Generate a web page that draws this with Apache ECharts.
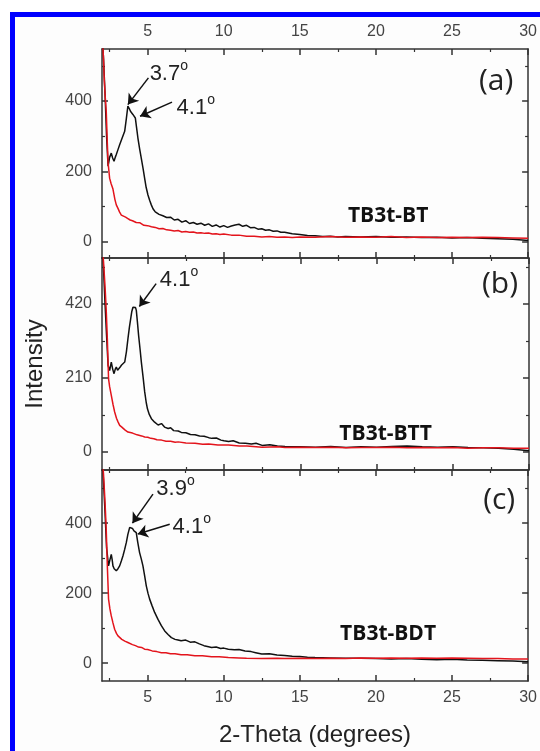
<!DOCTYPE html>
<html><head><meta charset="utf-8">
<script src="https://cdn.jsdelivr.net/npm/echarts@6/dist/echarts.min.js"></script>
<style>
html,body{margin:0;padding:0;background:#fff;}
#frame{position:absolute;left:10px;top:12px;width:540px;height:751px;border-left:5px solid #0000ff;border-top:5px solid #0000ff;background:#fdfdfd;}
#chart{position:absolute;left:0;top:0;width:540px;height:751px;}
</style></head><body><div id="frame"></div><div id="chart"></div>
<script>
// ---- tick labels ----
const xTickLabels = [5, 10, 15, 20, 25, 30];
const xMinorTicks = [2.5, 7.5, 12.5, 17.5, 22.5, 27.5];
const yLabelsA = [0, 200, 400];
const yMinorA = [100, 300, 500];
const yLabelsB = [0, 210, 420];
const yMinorB = [105, 315, 525];
const yLabelsC = [0, 200, 400];
const yMinorC = [100, 300, 500];
const sampleNames = ['TB3t-BT', 'TB3t-BTT', 'TB3t-BDT'];
const panelTags = ['(a)', '(b)', '(c)'];

// ---- panel (a) ----
const blackA_x = [2.0,2.1,2.2,2.3,2.4,2.5,2.61,2.7,2.79,2.87,2.94,3.05,3.16,3.3,3.49,3.6,3.7,3.8,3.87,3.95,4.03,4.1,4.19,4.27,4.36,4.47,4.58,4.7,4.8,4.9,5.02,5.13,5.24,5.35,5.5,5.75,6.0,6.25,6.5,6.75,7.0,7.25,7.5,7.75,8.0,8.25,8.5,8.75,9.0,9.25,9.5,9.75,10.0,10.25,10.5,10.75,11.0,11.25,11.5,11.75,12.0,12.25,12.5,12.75,13.0,13.25,13.5,13.75,14.0,14.5,15.0,15.5,16.0,16.5,17.0,17.5,18.0,19.0,20.0,21.0,22.0,23.0,24.0,25.0,26.0,27.0,28.0,29.0,30.0];
const blackA_y = [600,520,420,300,215,240,252,238,229,240,248,262,276,292,314,350,386,378,371,366,362,358,352,325,295,265,238,208,181,155,133,118,105,94,85,78,74,69,70,62,64,56,60,52,55,50,53,47,51,44,48,42,46,41,45,48,50,44,47,40,41,36,37,33,34,30,31,27,27,23,21,18,17,15,16,14,15,14,15,13,14,12,13,11,12,10,9,7,4];
const redA_x = [2.0,2.05,2.1,2.15,2.2,2.28,2.35,2.4,2.5,2.6,2.72,2.85,2.94,3.05,3.15,3.27,3.4,3.55,3.7,3.85,4.0,4.25,4.5,4.75,5.0,5.25,5.5,5.75,6.0,6.25,6.5,6.75,7.0,7.25,7.5,7.75,8.0,8.25,8.5,8.75,9.0,9.25,9.5,9.75,10.0,10.5,11.0,11.5,12.0,12.5,13.0,13.5,14.0,14.5,15.0,16.0,17.0,18.0,19.0,20.0,21.0,22.0,23.0,24.0,25.0,26.0,27.0,28.0,29.0,30.0];
const redA_y = [600,560,520,460,420,370,280,225,181,165,150,120,105,95,85,76,74,70,66,62,60,55,54,47,46,43,41,37,38,34,33,31,32,28,29,27,28,25,26,24,25,22,23,21,22,19,19,16,16,14,15,13,14,12,14,13,15,13,14,13,15,12,14,12,13,12,13,12,11,10];

// ---- panel (b) ----
const blackB_x = [2.0,2.1,2.2,2.3,2.4,2.5,2.61,2.7,2.79,2.87,2.94,3.02,3.1,3.18,3.27,3.38,3.49,3.6,3.7,3.8,3.88,3.95,4.03,4.1,4.14,4.2,4.25,4.32,4.4,4.5,4.58,4.7,4.8,4.9,4.98,5.1,5.24,5.45,5.68,5.9,6.1,6.34,6.5,6.7,7.0,7.2,7.5,7.8,8.1,8.4,8.7,9.0,9.2,9.5,9.8,10.0,10.3,10.6,11.0,11.4,11.8,12.1,12.5,13.0,13.5,14.0,15.0,16.0,17.0,18.0,19.0,20.0,21.0,22.0,23.0,24.0,25.0,26.0,27.0,28.0,29.0,30.0];
const blackB_y = [600,520,420,330,245,231,255,235,222,235,241,232,227,240,246,250,255,284,321,355,378,398,411,416,416,410,402,370,331,290,255,210,170,140,122,106,94,84,76,80,70,66,68,60,59,55,54,49,48,45,44,40,38,39,33,31,29,31,25,24,22,24,18,20,16,15,14,13,15,12,14,13,15,16,14,13,14,12,11,10,7,3];
const redB_x = [2.0,2.1,2.2,2.28,2.35,2.43,2.5,2.61,2.72,2.83,2.95,3.05,3.16,3.3,3.5,3.7,4.0,4.3,4.6,4.8,5.0,5.2,5.4,5.6,5.9,6.2,6.5,6.8,7.0,7.5,8.1,8.6,9.0,9.6,10.3,11.0,11.5,12.5,13.5,14.0,15.0,16.0,17.0,18.0,19.0,20.0,21.0,22.0,23.0,24.0,25.0,26.0,27.0,28.0,29.0,30.0];
const redB_y = [600,540,470,400,321,207,185,160,135,113,95,85,75,70,62,56,53,48,45,42,41,38,37,34,33,30,30,27,28,25,24,21,22,19,19,16,16,13,14,12,13,12,13,11,12,12,13,11,12,11,12,10,11,11,10,10];

// ---- panel (c) ----
const blackC_x = [2.0,2.1,2.2,2.3,2.43,2.52,2.61,2.67,2.72,2.8,2.87,2.94,3.05,3.16,3.27,3.38,3.49,3.6,3.7,3.82,3.93,4.0,4.1,4.18,4.25,4.35,4.47,4.58,4.69,4.8,4.91,5.02,5.13,5.3,5.46,5.68,5.9,6.12,6.34,6.56,6.8,7.0,7.2,7.5,7.8,8.1,8.4,8.7,9.0,9.2,9.5,9.8,10.0,10.3,10.7,11.0,11.4,11.8,12.1,12.5,13.0,13.5,14.0,14.5,15.0,15.5,16.0,17.0,18.0,19.0,20.0,21.0,22.0,23.0,24.0,25.0,26.0,27.0,28.0,29.0,30.0];
const blackC_y = [600,520,430,330,278,295,311,295,278,270,265,264,270,278,292,307,325,345,368,388,392,385,378,376,373,345,316,298,278,250,221,200,183,163,145,125,107,92,82,73,68,66,64,66,60,61,55,50,47,45,46,42,43,40,38,39,35,33,30,26,27,23,22,20,19,17,16,15,14,14,13,12,13,11,10,11,9,8,7,6,4];
const redC_x = [2.0,2.1,2.2,2.28,2.35,2.43,2.52,2.61,2.72,2.83,2.95,3.05,3.16,3.3,3.5,3.7,4.0,4.2,4.4,4.6,4.8,5.0,5.3,5.6,5.9,6.2,6.5,6.8,7.2,7.6,8.1,8.6,9.2,9.7,10.3,11.0,11.5,12.5,13.5,14.0,15.0,16.0,17.0,18.0,19.0,20.0,21.0,22.0,23.0,24.0,25.0,26.0,27.0,28.0,29.0,30.0];
const redC_y = [600,540,460,380,278,183,155,135,115,97,85,78,73,68,63,59,53,50,46,45,40,39,35,33,30,30,27,27,24,24,21,21,18,18,16,15,14,13,14,13,14,13,14,13,15,14,15,14,15,14,15,14,13,13,12,12];

// ---- layout (positions, not data) ----
const FONT = '"Liberation Sans", Arial, sans-serif';
const layout = [
  { grid: {left: 102, top: 49, width: 427, height: 209}, yMin: -46, yMax: 548,
    tagAt: [27.9, 455], nameAt: [20.8, 73],
    notes: [ {text: '3.7', at: [5.13, 476], from: [5.05, 466], to: [3.7, 390]},
             {text: '4.1', at: [6.9, 380], from: [6.6, 397], to: [4.5, 357]} ] },
  { grid: {left: 102, top: 258, width: 427, height: 212}, yMin: -52, yMax: 551,
    tagAt: [28.1, 477], nameAt: [20.6, 50],
    notes: [ {text: '4.1', at: [5.79, 488], from: [5.55, 478], to: [4.45, 413]} ] },
  { grid: {left: 102, top: 470, width: 427, height: 211}, yMin: -51, yMax: 552,
    tagAt: [28.1, 464], nameAt: [20.8, 84],
    notes: [ {text: '3.9', at: [5.57, 498], from: [5.35, 483], to: [4.0, 400]},
             {text: '4.1', at: [6.64, 389], from: [6.45, 397], to: [4.35, 369]} ] }
];
const panelData = [
  {bx: blackA_x, by: blackA_y, rx: redA_x, ry: redA_y, yl: yLabelsA, ym: yMinorA},
  {bx: blackB_x, by: blackB_y, rx: redB_x, ry: redB_y, yl: yLabelsB, ym: yMinorB},
  {bx: blackC_x, by: blackC_y, rx: redC_x, ry: redC_y, yl: yLabelsC, ym: yMinorC}
];

const AX = '#333';
const grids = [], xAxes = [], yAxes = [], series = [];
const pairs = (xs, ys) => xs.map((x, i) => [x, ys[i]]);

layout.forEach((L, gi) => {
  const D = panelData[gi];
  grids.push(L.grid);
  const xBase = {type: 'value', gridIndex: gi, min: 2, max: 30, splitLine: {show: false}};
  const labelStyle = {fontSize: 16, color: '#444', fontFamily: FONT, margin: 9, customValues: xTickLabels};
  ['bottom', 'top'].forEach(pos => {
    const showLab = (pos === 'top' && gi === 0) || (pos === 'bottom' && gi === 2);
    const ax = Object.assign({}, xBase, {
      position: pos,
      axisLine: {show: true, onZero: false, lineStyle: {color: AX, width: 1.5}},
      axisTick: {show: true, inside: true, length: 6, customValues: xTickLabels, lineStyle: {color: AX, width: 1.5}},
      axisLabel: Object.assign({show: showLab}, labelStyle)
    });
    if (pos === 'bottom' && gi === 2) {
      ax.name = '2-Theta (degrees)';
      ax.nameLocation = 'middle';
      ax.nameGap = 42;
      ax.nameTextStyle = {fontSize: 24, color: '#222', fontFamily: FONT};
    }
    xAxes.push(ax);
  });
  ['bottom', 'top'].forEach(pos => {
    xAxes.push(Object.assign({}, xBase, {
      position: pos,
      axisLine: {show: false, onZero: false},
      axisTick: {show: true, inside: true, length: 3, customValues: xMinorTicks, lineStyle: {color: AX, width: 1.2}},
      axisLabel: {show: false}
    }));
  });
  const yBase = {type: 'value', gridIndex: gi, min: L.yMin, max: L.yMax, splitLine: {show: false}};
  ['left', 'right'].forEach(pos => {
    const ay = Object.assign({}, yBase, {
      position: pos,
      axisLine: {show: true, onZero: false, lineStyle: {color: AX, width: 1.5}},
      axisTick: {show: true, inside: true, length: 6, customValues: D.yl, lineStyle: {color: AX, width: 1.5}},
      axisLabel: {show: pos === 'left', customValues: D.yl, fontSize: 16, color: '#444', fontFamily: FONT, margin: 10}
    });
    if (pos === 'left' && gi === 1) {
      ay.name = 'Intensity';
      ay.nameLocation = 'middle';
      ay.nameGap = 55;
      ay.nameRotate = 90;
      ay.nameTextStyle = {fontSize: 24, color: '#222', fontFamily: FONT};
    }
    yAxes.push(ay);
  });
  ['left', 'right'].forEach(pos => {
    yAxes.push(Object.assign({}, yBase, {
      position: pos,
      axisLine: {show: false, onZero: false},
      axisTick: {show: true, inside: true, length: 3, customValues: D.ym, lineStyle: {color: AX, width: 1.2}},
      axisLabel: {show: false}
    }));
  });

  const noteTexts = L.notes.map(n => ({
    coord: n.at,
    label: {show: true, position: 'right', distance: 0,
      formatter: '{n|' + n.text + '}{s|o}',
      rich: {n: {fontSize: 22, color: '#222', fontFamily: FONT, lineHeight: 30},
             s: {fontSize: 14, color: '#222', fontFamily: FONT, verticalAlign: 'top', lineHeight: 14}}}
  }));
  noteTexts.push({coord: L.tagAt, label: {show: true, position: 'inside', formatter: panelTags[gi],
    fontSize: 30, color: '#222', fontFamily: '"Open Sans", sans-serif'}});
  noteTexts.push({coord: L.nameAt, label: {show: true, position: 'inside', formatter: sampleNames[gi],
    fontSize: 21, fontWeight: 'bold', color: '#111', fontFamily: '"Open Sans", sans-serif'}});

  series.push({
    type: 'line', xAxisIndex: gi * 4, yAxisIndex: gi * 4,
    data: pairs(D.bx, D.by), showSymbol: false, symbol: 'none',
    lineStyle: {color: '#111', width: 1.5}, clip: true, z: 2,
    emphasis: {disabled: true},
    markLine: {silent: true, animation: false, symbol: ['none', 'arrow'], symbolSize: 10,
      lineStyle: {color: '#111', width: 1.5, type: 'solid'}, label: {show: false},
      emphasis: {disabled: true},
      data: L.notes.map(n => [{coord: n.from}, {coord: n.to}])},
    markPoint: {silent: true, animation: false, symbol: 'circle', symbolSize: 0,
      data: noteTexts}
  });
  series.push({
    type: 'line', xAxisIndex: gi * 4, yAxisIndex: gi * 4,
    data: pairs(D.rx, D.ry), showSymbol: false, symbol: 'none',
    lineStyle: {color: '#e3141c', width: 1.5}, clip: true, z: 3,
    emphasis: {disabled: true}
  });
});

const chart = echarts.init(document.getElementById('chart'), null, {renderer: 'canvas'});
chart.setOption({
  animation: false,
  backgroundColor: 'transparent',
  grid: grids, xAxis: xAxes, yAxis: yAxes, series: series
});
</script></body></html>
